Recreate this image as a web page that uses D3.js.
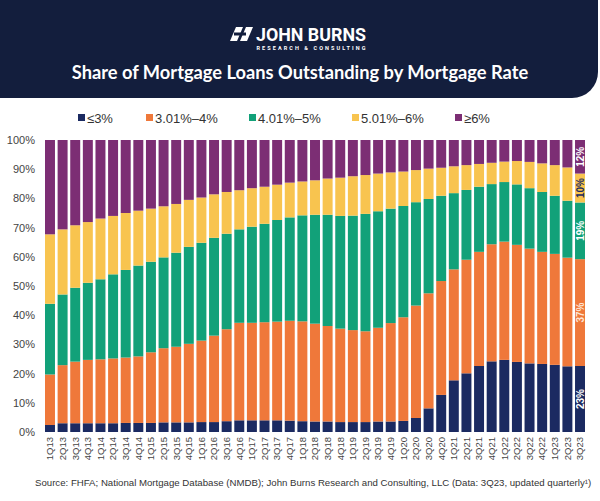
<!DOCTYPE html>
<html><head><meta charset="utf-8">
<script src="https://cdn.jsdelivr.net/npm/d3@7/dist/d3.min.js"></script>
<style>body{margin:0;background:#fff}svg{display:block}</style>
</head><body><svg id="c" width="600" height="501"></svg>
<script>
const quarters = ["1Q13","2Q13","3Q13","4Q13","1Q14","2Q14","3Q14","4Q14","1Q15","2Q15","3Q15","4Q15","1Q16","2Q16","3Q16","4Q16","1Q17","2Q17","3Q17","4Q17","1Q18","2Q18","3Q18","4Q18","1Q19","2Q19","3Q19","4Q19","1Q20","2Q20","3Q20","4Q20","1Q21","2Q21","3Q21","4Q21","1Q22","2Q22","3Q22","4Q22","1Q23","2Q23","3Q23"];
const seriesNames = ["≤3%","3.01%–4%","4.01%–5%","5.01%–6%","≥6%"];
const le3   = [2.4,3.0,3.0,3.0,3.0,3.0,3.1,3.1,3.1,3.3,3.3,3.3,3.4,3.4,3.7,4.0,4.0,4.0,4.0,3.9,3.7,3.6,3.6,3.4,3.4,3.4,3.6,3.6,3.8,4.8,8.1,12.7,17.7,20.1,22.6,24.2,24.7,24.0,23.5,23.3,23.0,22.5,22.6];
const r3to4 = [17.3,19.9,21.1,21.7,21.9,22.2,22.4,22.8,24.2,25.4,25.9,26.9,27.9,29.6,31.5,33.4,33.4,33.6,33.8,34.2,34.2,33.5,32.7,32.0,31.5,31.1,32.1,33.7,35.5,38.5,39.4,39.0,38.0,38.9,39.1,40.1,40.5,40.1,39.3,38.4,38.0,37.2,36.6];
const r4to5 = [24.2,24.2,25.3,26.4,27.4,28.8,30.0,31.1,31.0,31.1,32.2,33.2,33.5,33.5,32.7,32.0,32.9,33.7,34.8,35.4,36.3,37.3,38.1,38.6,39.2,40.2,39.9,39.2,38.1,35.4,32.3,29.2,26.1,23.9,22.3,20.6,20.4,20.7,20.7,20.5,19.9,19.5,19.4];
const r5to6 = [23.8,22.3,21.4,20.8,20.8,20.0,19.5,18.8,18.2,17.5,16.7,16.1,15.5,14.9,14.3,13.4,13.2,12.7,12.1,11.9,11.6,11.8,12.4,13.1,13.5,13.3,12.9,12.4,11.8,11.0,10.4,9.6,9.2,8.5,7.8,7.3,7.0,8.0,9.0,9.8,10.5,11.4,9.9];
const ge6   = [32.3,30.6,29.2,28.1,26.9,26.0,25.0,24.2,23.5,22.7,21.9,20.5,19.7,18.6,17.8,17.2,16.5,16.0,15.3,14.6,14.2,13.8,13.2,12.9,12.4,12.0,11.5,11.1,10.8,10.3,9.8,9.5,9.0,8.6,8.2,7.8,7.4,7.2,7.5,8.0,8.6,9.4,11.5];
const yTicks = [0,10,20,30,40,50,60,70,80,90,100];
const colors = ["#1b2a61","#ef783a","#12a179","#f8c44f","#7c2e74"];

const svg = d3.select("#c");
const W = 600;

// Header
const hb = 98, hr = 26, hw = 598;
svg.append("path")
  .attr("d", `M0,0H${hw}V${hb-hr}A${hr},${hr} 0 0 1 ${hw-hr},${hb}H0Z`)
  .attr("fill", "#131e3d");

// Logo icon
const icon = svg.append("g").attr("fill", "#fff");
icon.append("path").attr("d", "M236,27 L243,27 L237,41 L230,41 Z");
icon.append("path").attr("d", "M246,27 L253,27 L247,41 L240,41 Z");
icon.append("rect").attr("x", 234).attr("y", 32.5).attr("width", 12).attr("height", 3).attr("fill", "#131e3d");
svg.append("text").attr("x", 256).attr("y", 41).attr("fill", "#fff")
  .attr("font-family", "Roboto, sans-serif").attr("font-weight", 700).attr("font-size", 19)
  .attr("textLength", 110).attr("lengthAdjust", "spacingAndGlyphs").text("JOHN BURNS");
svg.append("text").attr("x", 256.5).attr("y", 50).attr("fill", "#fff")
  .attr("font-family", "Roboto, sans-serif").attr("font-weight", 700).attr("font-size", 5.5)
  .attr("textLength", 109).attr("lengthAdjust", "spacing").text("RESEARCH & CONSULTING");

const title = svg.append("text").attr("x", W/2).attr("y", 79).attr("text-anchor", "middle")
  .attr("fill", "#fff").attr("font-family", "Lato, 'Open Sans', sans-serif").attr("font-weight", 700)
  .attr("font-size", 18).text("Share of Mortgage Loans Outstanding by Mortgage Rate");
{
  const L = title.node().getComputedTextLength();
  title.attr("font-size", 18 * 457 / L);
}

// Legend
const legX = [78, 146, 249, 352, 455];
const leg = svg.append("g");
seriesNames.forEach((n, i) => {
  leg.append("rect").attr("x", legX[i]).attr("y", 114).attr("width", 7).attr("height", 7).attr("fill", colors[i]);
  leg.append("text").attr("x", legX[i] + 9).attr("y", 122.5).attr("font-family", "Liberation Sans, Arial, sans-serif")
    .attr("font-size", 13).attr("fill", "#333").text(n);
});

// Scales
const x = d3.scaleBand().domain(quarters).range([45, 585]).paddingInner(0.21).paddingOuter(0);
const y = d3.scaleLinear().domain([0, 100]).range([432, 140]);

const rows = quarters.map((q, i) => ({q, s0: le3[i], s1: r3to4[i], s2: r4to5[i], s3: r5to6[i], s4: ge6[i]}));
const keys = ["s0","s1","s2","s3","s4"];
const stack = d3.stack().keys(keys)(rows);

const bars = svg.append("g");
stack.forEach((layer, li) => {
  bars.append("g").attr("fill", colors[li]).selectAll("rect").data(layer).join("rect")
    .attr("x", d => x(d.data.q)).attr("width", x.bandwidth())
    .attr("y", d => y(d[1])).attr("height", d => y(d[0]) - y(d[1]));
});

// Labels on last bar
const last = quarters[quarters.length - 1];
const labelColors = ["#fff","#fde6d6","#fff","#1b2a61","#fff"];
stack.forEach((layer, li) => {
  const d = layer[layer.length - 1];
  const cx = x(last) + x.bandwidth() / 2, cy = (y(d[0]) + y(d[1])) / 2;
  svg.append("text").attr("transform", `translate(${cx},${cy}) rotate(-90)`)
    .attr("text-anchor", "middle").attr("dy", "0.35em")
    .attr("font-family", "Liberation Sans, Arial, sans-serif").attr("font-weight", 700).attr("font-size", 10)
    .attr("fill", labelColors[li]).text(Math.round(d[1] - d[0]) + "%");
});

// Y axis
const yAxis = svg.append("g").attr("transform", "translate(40,0)")
  .call(d3.axisLeft(y).tickValues(yTicks).tickSize(0).tickPadding(5).tickFormat(d => d + "%"));
yAxis.select(".domain").remove();
yAxis.selectAll("text").attr("font-family", "Liberation Sans, Arial, sans-serif").attr("font-size", 11).attr("fill", "#444");

// X axis
const xAxis = svg.append("g").attr("transform", "translate(0,432)")
  .call(d3.axisBottom(x).tickSize(0).tickPadding(0));
xAxis.select(".domain").remove();
xAxis.selectAll("text").attr("font-family", "Liberation Sans, Arial, sans-serif").attr("font-size", 9.5).attr("fill", "#444")
  .attr("text-anchor", "end").attr("transform", "translate(0,5) rotate(-90)").attr("x", 0).attr("y", 0).attr("dy", "0.35em");

// Source
const src = svg.append("text").attr("x", 35).attr("y", 486)
  .attr("font-family", "Liberation Sans, Arial, sans-serif").attr("font-size", 10.5).attr("fill", "#333")
  .text("Source: FHFA; National Mortgage Database (NMDB); John Burns Research and Consulting, LLC (Data: 3Q23, updated quarterly¹)");
{
  const L = src.node().getComputedTextLength();
  if (L > 557) src.attr("font-size", 10.5 * 557 / L);
}
</script></body></html>
